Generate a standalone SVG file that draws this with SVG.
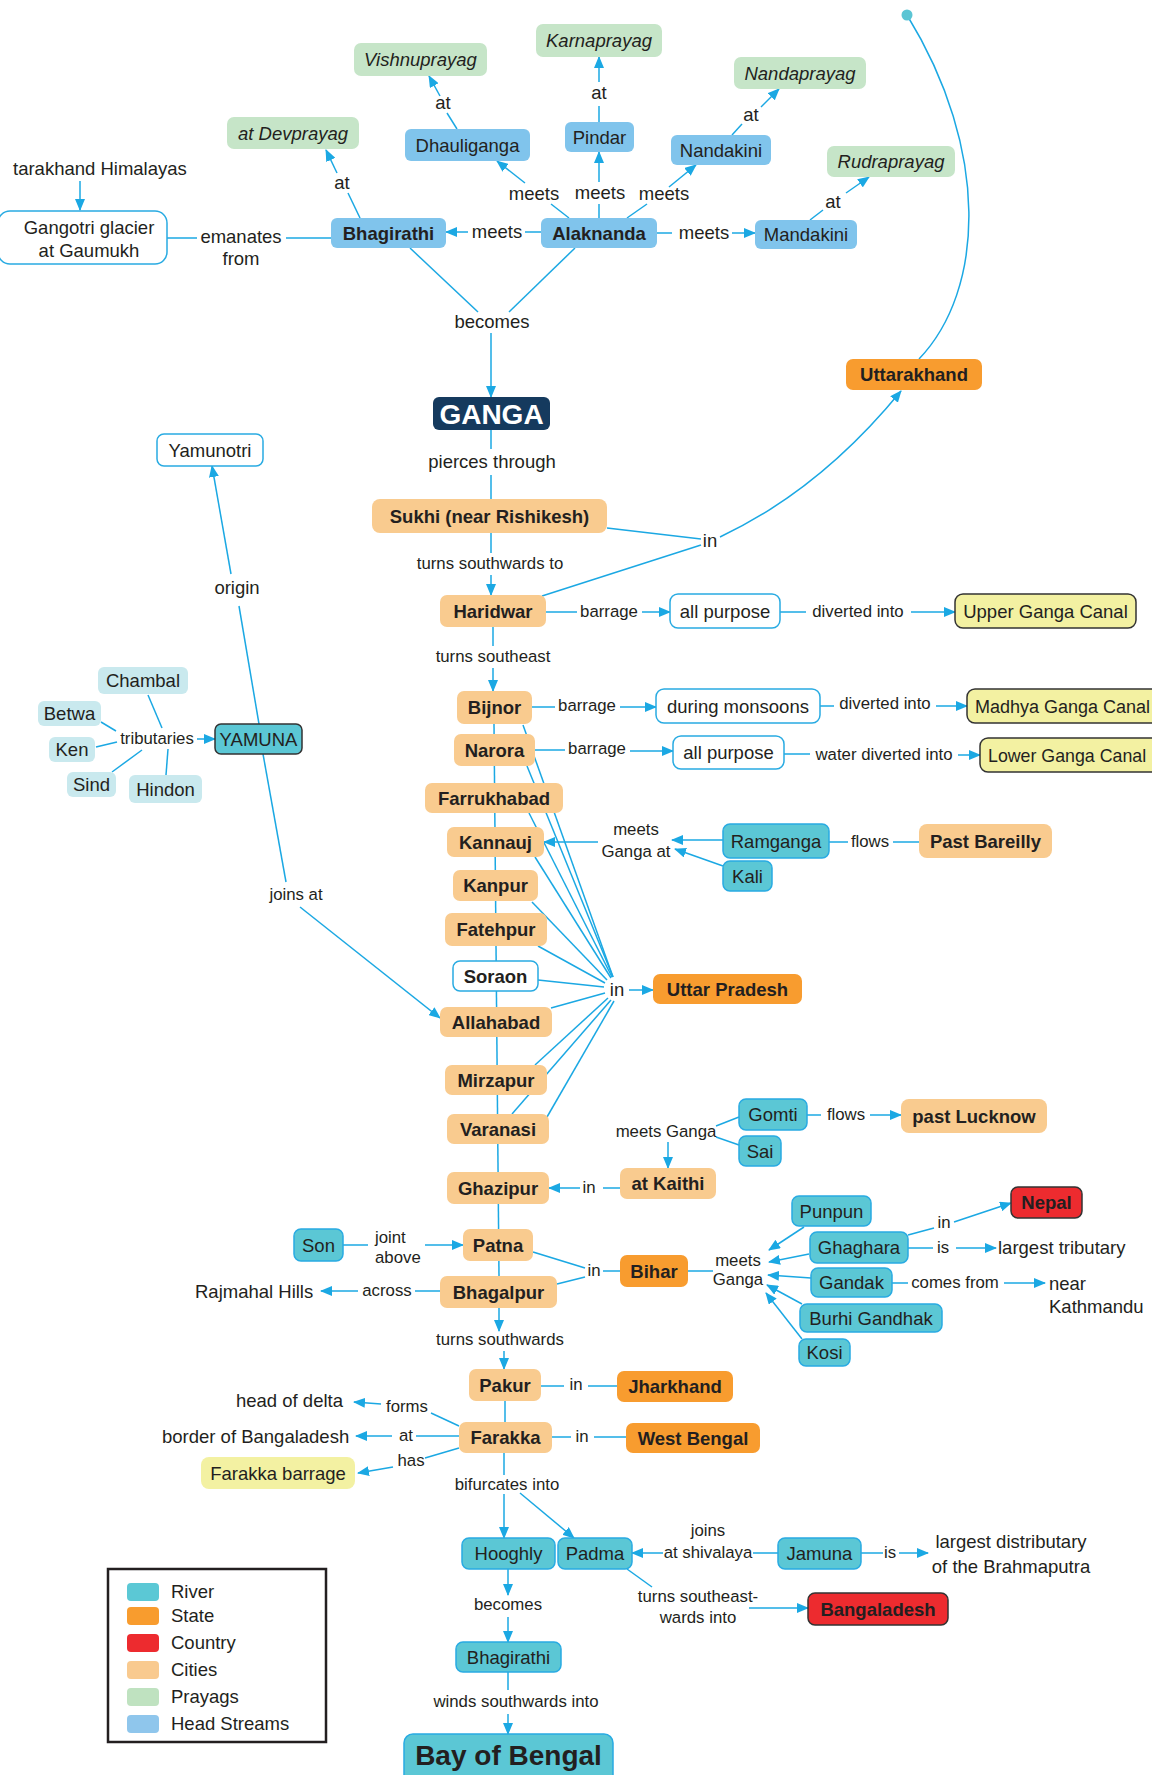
<svg xmlns="http://www.w3.org/2000/svg" width="1152" height="1775" viewBox="0 0 1152 1775">
<defs>
<marker id="ar" markerWidth="12" markerHeight="10" refX="11" refY="5" orient="auto" markerUnits="userSpaceOnUse"><path d="M0,0 L12,5 L0,10 z" fill="#1ba8e3"/></marker>
<style>
text{font-family:"Liberation Sans",Arial,sans-serif;fill:#231f20}
.n{font-size:18.5px;text-anchor:middle}
.s{font-size:16.8px;text-anchor:middle}
.st{text-anchor:start}
.b{font-weight:bold}
.i{font-style:italic}
.c{stroke:#1ba8e3;stroke-width:1.5;fill:none}
.a{marker-end:url(#ar)}
.hs{fill:#80c4ec}
.pr{fill:#c6e5c8}
.wb{fill:#fff;stroke:#29abe2;stroke-width:1.5}
.ci{fill:#f9cb8f}
.sa{fill:#f89c2f}
.co{fill:#ed2b2f;stroke:#333;stroke-width:1.5}
.rv{fill:#5bc7d5;stroke:#29abe2;stroke-width:1.5}
.ca{fill:#f3f1a2;stroke:#333;stroke-width:1.5}
.tr{fill:#c9e9ee}
</style>
</defs>
<rect width="1152" height="1775" fill="#fff"/>
<g id="connectors">
<line class="c a" x1="80" y1="181" x2="80" y2="210"/>
<line class="c" x1="167" y1="238" x2="197" y2="238"/>
<line class="c" x1="286" y1="238" x2="331" y2="238"/>
<line class="c" x1="541" y1="232" x2="525" y2="232"/>
<line class="c a" x1="468" y1="232" x2="446" y2="232"/>
<line class="c" x1="360" y1="218" x2="348" y2="193"/>
<line class="c a" x1="337" y1="173" x2="326" y2="150"/>
<line class="c" x1="569" y1="218" x2="551" y2="204"/>
<line class="c a" x1="525" y1="183" x2="497" y2="161"/>
<line class="c" x1="457" y1="129" x2="447" y2="113"/>
<line class="c a" x1="440" y1="96" x2="429" y2="76"/>
<line class="c" x1="599" y1="218" x2="599" y2="204"/>
<line class="c a" x1="599" y1="182" x2="599" y2="152"/>
<line class="c" x1="599" y1="122" x2="599" y2="106"/>
<line class="c a" x1="599" y1="82" x2="599" y2="57"/>
<line class="c" x1="627" y1="218" x2="647" y2="204"/>
<line class="c a" x1="669" y1="187" x2="696" y2="165"/>
<line class="c" x1="732" y1="135" x2="742" y2="124"/>
<line class="c a" x1="761" y1="107" x2="779" y2="89"/>
<line class="c" x1="657" y1="233" x2="672" y2="233"/>
<line class="c a" x1="732" y1="233" x2="755" y2="233"/>
<line class="c" x1="810" y1="220" x2="823" y2="210"/>
<line class="c a" x1="846" y1="193" x2="869" y2="177"/>
<line class="c" x1="410" y1="248" x2="478" y2="312"/>
<line class="c" x1="575" y1="248" x2="509" y2="312"/>
<line class="c a" x1="491" y1="333" x2="491" y2="397"/>
<line class="c" x1="491" y1="430" x2="491" y2="449"/>
<line class="c" x1="491" y1="475" x2="491" y2="499"/>
<line class="c" x1="491" y1="533" x2="491" y2="553"/>
<line class="c a" x1="491" y1="575" x2="491" y2="595"/>
<line class="c" x1="493" y1="627" x2="493" y2="646"/>
<line class="c a" x1="493" y1="668" x2="493" y2="691"/>
<line class="c" x1="607" y1="528" x2="701" y2="539"/>
<line class="c" x1="542" y1="596" x2="701" y2="545"/>
<path class="c a" d="M720,537 Q820,490 901,391"/>
<path class="c" d="M907,15 C990,150 985,290 919,359"/>
<circle cx="907" cy="15" r="5.5" fill="#5bc5d4"/>
<line class="c" x1="546" y1="612" x2="577" y2="612"/>
<line class="c a" x1="642" y1="612" x2="670" y2="612"/>
<line class="c" x1="780" y1="612" x2="806" y2="612"/>
<line class="c a" x1="911" y1="612" x2="955" y2="612"/>
<line class="c" x1="532" y1="707" x2="555" y2="707"/>
<line class="c a" x1="620" y1="707" x2="656" y2="707"/>
<line class="c" x1="820" y1="706" x2="834" y2="706"/>
<line class="c a" x1="936" y1="706" x2="967" y2="706"/>
<line class="c" x1="535" y1="750" x2="565" y2="750"/>
<line class="c a" x1="630" y1="751" x2="673" y2="751"/>
<line class="c" x1="784" y1="754" x2="810" y2="754"/>
<line class="c a" x1="958" y1="755" x2="980" y2="755"/>
<line class="c" x1="259" y1="724" x2="239" y2="606"/>
<line class="c a" x1="231" y1="574" x2="212" y2="466"/>
<line class="c" x1="148" y1="695" x2="162" y2="728"/>
<line class="c" x1="101" y1="722" x2="116" y2="731"/>
<line class="c" x1="96" y1="747" x2="117" y2="742"/>
<line class="c" x1="112" y1="772" x2="142" y2="750"/>
<line class="c" x1="166" y1="775" x2="168" y2="749"/>
<line class="c a" x1="197" y1="739" x2="215" y2="739"/>
<line class="c" x1="263" y1="754" x2="286" y2="882"/>
<line class="c a" x1="300" y1="907" x2="440" y2="1018"/>
<line class="c" x1="494" y1="724" x2="499" y2="1276"/>
<line class="c" x1="523" y1="725" x2="613" y2="977"/>
<line class="c" x1="527" y1="766" x2="613" y2="977"/>
<line class="c" x1="529" y1="813" x2="612" y2="977"/>
<line class="c" x1="535" y1="857" x2="611" y2="978"/>
<line class="c" x1="532" y1="902" x2="607" y2="980"/>
<line class="c" x1="538" y1="946" x2="605" y2="983"/>
<line class="c" x1="538" y1="980" x2="604" y2="987"/>
<line class="c" x1="551" y1="1008" x2="605" y2="993"/>
<line class="c" x1="535" y1="1065" x2="608" y2="998"/>
<line class="c" x1="512" y1="1114" x2="611" y2="1000"/>
<line class="c" x1="547" y1="1117" x2="614" y2="1001"/>
<line class="c a" x1="629" y1="990" x2="653" y2="990"/>
<line class="c a" x1="723" y1="840" x2="672" y2="840"/>
<line class="c a" x1="723" y1="866" x2="675" y2="849"/>
<line class="c a" x1="598" y1="842" x2="544" y2="842"/>
<line class="c" x1="829" y1="842" x2="848" y2="842"/>
<line class="c" x1="893" y1="842" x2="919" y2="842"/>
<line class="c" x1="807" y1="1115" x2="821" y2="1115"/>
<line class="c a" x1="870" y1="1115" x2="901" y2="1115"/>
<line class="c" x1="739" y1="1117" x2="716" y2="1126"/>
<line class="c" x1="739" y1="1145" x2="716" y2="1137"/>
<line class="c a" x1="668" y1="1142" x2="668" y2="1168"/>
<line class="c" x1="620" y1="1188" x2="603" y2="1188"/>
<line class="c a" x1="580" y1="1188" x2="549" y2="1188"/>
<line class="c" x1="343" y1="1245" x2="368" y2="1245"/>
<line class="c a" x1="425" y1="1245" x2="463" y2="1245"/>
<line class="c" x1="441" y1="1291" x2="415" y2="1291"/>
<line class="c a" x1="358" y1="1291" x2="321" y2="1291"/>
<line class="c" x1="533" y1="1252" x2="585" y2="1268"/>
<line class="c" x1="557" y1="1284" x2="585" y2="1277"/>
<line class="c" x1="603" y1="1271" x2="620" y2="1271"/>
<line class="c" x1="688" y1="1271" x2="713" y2="1271"/>
<line class="c a" x1="804" y1="1227" x2="769" y2="1250"/>
<line class="c a" x1="809" y1="1254" x2="769" y2="1262"/>
<line class="c a" x1="811" y1="1278" x2="768" y2="1275"/>
<line class="c a" x1="802" y1="1304" x2="767" y2="1285"/>
<line class="c a" x1="802" y1="1339" x2="766" y2="1293"/>
<line class="c" x1="908" y1="1235" x2="934" y2="1228"/>
<line class="c a" x1="954" y1="1222" x2="1011" y2="1203"/>
<line class="c" x1="908" y1="1248" x2="933" y2="1248"/>
<line class="c a" x1="956" y1="1248" x2="996" y2="1248"/>
<line class="c" x1="892" y1="1283" x2="908" y2="1283"/>
<line class="c a" x1="1004" y1="1283" x2="1045" y2="1283"/>
<line class="c a" x1="499" y1="1308" x2="499" y2="1331"/>
<line class="c a" x1="504" y1="1351" x2="504" y2="1369"/>
<line class="c" x1="541" y1="1386" x2="564" y2="1386"/>
<line class="c" x1="588" y1="1386" x2="617" y2="1386"/>
<line class="c" x1="505" y1="1401" x2="505" y2="1422"/>
<line class="c" x1="459" y1="1426" x2="431" y2="1413"/>
<line class="c a" x1="381" y1="1404" x2="354" y2="1402"/>
<line class="c" x1="459" y1="1436" x2="416" y2="1436"/>
<line class="c a" x1="392" y1="1436" x2="356" y2="1436"/>
<line class="c" x1="459" y1="1448" x2="425" y2="1458"/>
<line class="c a" x1="393" y1="1467" x2="358" y2="1473"/>
<line class="c" x1="552" y1="1437" x2="571" y2="1437"/>
<line class="c" x1="594" y1="1437" x2="626" y2="1437"/>
<line class="c" x1="504" y1="1453" x2="504" y2="1475"/>
<line class="c a" x1="504" y1="1494" x2="504" y2="1538"/>
<line class="c a" x1="520" y1="1493" x2="574" y2="1538"/>
<line class="c" x1="778" y1="1553" x2="753" y2="1553"/>
<line class="c a" x1="663" y1="1553" x2="632" y2="1553"/>
<line class="c" x1="861" y1="1553" x2="883" y2="1553"/>
<line class="c a" x1="899" y1="1553" x2="928" y2="1553"/>
<line class="c" x1="627" y1="1569" x2="652" y2="1587"/>
<line class="c a" x1="749" y1="1608" x2="808" y2="1608"/>
<line class="c a" x1="508" y1="1569" x2="508" y2="1595"/>
<line class="c a" x1="508" y1="1617" x2="508" y2="1642"/>
<line class="c" x1="508" y1="1672" x2="508" y2="1690"/>
<line class="c a" x1="508" y1="1714" x2="508" y2="1734"/>
</g>
<g id="labels">
<text class="n" x="241" y="243">emanates</text>
<text class="n" x="241" y="265">from</text>
<text class="n" x="497" y="237.5">meets</text>
<text class="n" x="534" y="199.5">meets</text>
<text class="n" x="600" y="198.5">meets</text>
<text class="n" x="664" y="199.5">meets</text>
<text class="n" x="704" y="238.5">meets</text>
<text class="n" x="342" y="188.5">at</text>
<text class="n" x="443" y="108.5">at</text>
<text class="n" x="599" y="98.5">at</text>
<text class="n" x="751" y="120.5">at</text>
<text class="n" x="833" y="207.5">at</text>
<text class="n" x="492" y="327.5">becomes</text>
<text class="n" x="492" y="467.5">pierces through</text>
<text class="s" x="490" y="569">turns southwards to</text>
<text class="s" x="493" y="662">turns southeast</text>
<text class="n" x="710" y="547">in</text>
<text class="s" x="609" y="617">barrage</text>
<text class="s" x="858" y="617">diverted into</text>
<text class="s" x="587" y="711">barrage</text>
<text class="s" x="885" y="709">diverted into</text>
<text class="s" x="597" y="754">barrage</text>
<text class="s" x="884" y="760">water diverted into</text>
<text class="n" x="237" y="593.5">origin</text>
<text class="s" x="157" y="744">tributaries</text>
<text class="s" x="296" y="900">joins at</text>
<text class="s" x="636" y="835">meets</text>
<text class="s" x="636" y="857">Ganga at</text>
<text class="n" x="617" y="995.5">in</text>
<text class="s" x="870" y="847">flows</text>
<text class="s" x="846" y="1120">flows</text>
<text class="s" x="666" y="1137">meets Ganga</text>
<text class="s" x="589" y="1193">in</text>
<text class="s st" x="375" y="1243">joint</text>
<text class="s st" x="375" y="1263">above</text>
<text class="s" x="387" y="1296">across</text>
<text class="s" x="594" y="1276">in</text>
<text class="s" x="738" y="1266">meets</text>
<text class="s" x="738" y="1285">Ganga</text>
<text class="s" x="500" y="1345">turns southwards</text>
<text class="s" x="576" y="1390">in</text>
<text class="s" x="407" y="1412">forms</text>
<text class="s" x="406" y="1441">at</text>
<text class="s" x="411" y="1466">has</text>
<text class="s" x="582" y="1442">in</text>
<text class="s" x="507" y="1490">bifurcates into</text>
<text class="s" x="944" y="1228">in</text>
<text class="s" x="943" y="1253">is</text>
<text class="s" x="955" y="1288">comes from</text>
<text class="s" x="708" y="1536">joins</text>
<text class="s" x="708" y="1558">at shivalaya</text>
<text class="s" x="890" y="1558">is</text>
<text class="s" x="698" y="1602">turns southeast-</text>
<text class="s" x="698" y="1623">wards into</text>
<text class="s" x="508" y="1610">becomes</text>
<text class="s" x="516" y="1707">winds southwards into</text>
</g>
<g id="n-himalayas"><text class="n st" x="13" y="175">tarakhand Himalayas</text></g>
<g id="n-gangotri"><rect class="wb" x="-2" y="211" width="169" height="53" rx="12"/><text class="n" x="89" y="233.5">Gangotri glacier</text><text class="n" x="89" y="256.5">at Gaumukh</text></g>
<g id="n-bhagirathi"><rect class="hs" x="331" y="218" width="115" height="30" rx="6"/><text class="n b" x="388.5" y="239.5">Bhagirathi</text></g>
<g id="n-alaknanda"><rect class="hs" x="541" y="218" width="116" height="30" rx="6"/><text class="n b" x="599" y="239.5">Alaknanda</text></g>
<g id="n-dhauliganga"><rect class="hs" x="405" y="129" width="125" height="32" rx="6"/><text class="n" x="467.5" y="151.5">Dhauliganga</text></g>
<g id="n-pindar"><rect class="hs" x="565" y="122" width="69" height="30" rx="6"/><text class="n" x="599.5" y="143.5">Pindar</text></g>
<g id="n-nandakini"><rect class="hs" x="671" y="135" width="100" height="30" rx="6"/><text class="n" x="721" y="156.5">Nandakini</text></g>
<g id="n-mandakini"><rect class="hs" x="755" y="220" width="102" height="29" rx="6"/><text class="n" x="806" y="241">Mandakini</text></g>
<g id="n-vishnuprayag"><rect class="pr" x="354" y="43" width="133" height="33" rx="7"/><text class="n i" x="420.5" y="66">Vishnuprayag</text></g>
<g id="n-devprayag"><rect class="pr" x="227" y="117" width="132" height="32" rx="7"/><text class="n i" x="293" y="139.5">at Devprayag</text></g>
<g id="n-karnaprayag"><rect class="pr" x="536" y="24" width="126" height="33" rx="7"/><text class="n i" x="599" y="47">Karnaprayag</text></g>
<g id="n-nandaprayag"><rect class="pr" x="734" y="57" width="132" height="32" rx="7"/><text class="n i" x="800" y="79.5">Nandaprayag</text></g>
<g id="n-rudraprayag"><rect class="pr" x="827" y="146" width="128" height="31" rx="7"/><text class="n i" x="891" y="168">Rudraprayag</text></g>
<g id="n-ganga"><rect x="433" y="397" width="117" height="33" rx="6" fill="#153a5e"/><text x="491.5" y="424" font-size="28" font-weight="bold" text-anchor="middle" style="fill:#fff">GANGA</text></g>
<g id="n-uttarakhand"><rect class="sa" x="846" y="359" width="136" height="31" rx="7"/><text class="n b" x="914" y="381">Uttarakhand</text></g>
<g id="n-yamunotri"><rect class="wb" x="157" y="434" width="106" height="32" rx="7"/><text class="n" x="210" y="456.5">Yamunotri</text></g>
<g id="n-yamuna"><rect x="215" y="724" width="87" height="30" rx="6" fill="#5bc7d5" stroke="#333" stroke-width="1.5"/><text class="n" x="258.5" y="745.5">YAMUNA</text></g>
<g id="n-chambal"><rect class="tr" x="98" y="667" width="90" height="27" rx="6"/><text class="n" x="143" y="687">Chambal</text></g>
<g id="n-betwa"><rect class="tr" x="38" y="701" width="63" height="25" rx="6"/><text class="n" x="69.5" y="720">Betwa</text></g>
<g id="n-ken"><rect class="tr" x="49" y="737" width="46" height="25" rx="6"/><text class="n" x="72" y="756">Ken</text></g>
<g id="n-sind"><rect class="tr" x="67" y="772" width="49" height="25" rx="6"/><text class="n" x="91.5" y="791">Sind</text></g>
<g id="n-hindon"><rect class="tr" x="129" y="775" width="73" height="28" rx="6"/><text class="n" x="165.5" y="795.5">Hindon</text></g>
<g id="n-sukhi"><rect class="ci" x="372" y="499" width="235" height="34" rx="8"/><text class="n b" x="489.5" y="522.5">Sukhi (near Rishikesh)</text></g>
<g id="n-haridwar"><rect class="ci" x="440" y="595" width="106" height="32" rx="7"/><text class="n b" x="493" y="617.5">Haridwar</text></g>
<g id="n-allpurpose1"><rect class="wb" x="670" y="594" width="110" height="34" rx="8"/><text class="n" x="725" y="617.5">all purpose</text></g>
<g id="n-upper"><rect class="ca" x="955" y="594" width="181" height="34" rx="8"/><text class="n" x="1045.5" y="617.5">Upper Ganga Canal</text></g>
<g id="n-bijnor"><rect class="ci" x="457" y="691" width="75" height="33" rx="7"/><text class="n b" x="494.5" y="714">Bijnor</text></g>
<g id="n-monsoons"><rect class="wb" x="656" y="689" width="164" height="34" rx="8"/><text class="n" x="738" y="712.5">during monsoons</text></g>
<g id="n-madhya"><rect class="ca" x="967" y="689" width="200" height="34" rx="8"/><text class="n st" x="975" y="712.5" style="font-size:18px">Madhya Ganga Canal</text></g>
<g id="n-narora"><rect class="ci" x="454" y="734" width="81" height="32" rx="7"/><text class="n b" x="494.5" y="756.5">Narora</text></g>
<g id="n-allpurpose2"><rect class="wb" x="673" y="736" width="111" height="33" rx="8"/><text class="n" x="728.5" y="759">all purpose</text></g>
<g id="n-lower"><rect class="ca" x="980" y="738" width="190" height="34" rx="8"/><text class="n st" x="988" y="761.5" style="font-size:17.8px">Lower Ganga Canal</text></g>
<g id="n-farrukhabad"><rect class="ci" x="425" y="783" width="138" height="30" rx="7"/><text class="n b" x="494" y="804.5">Farrukhabad</text></g>
<g id="n-kannauj"><rect class="ci" x="447" y="827" width="97" height="30" rx="7"/><text class="n b" x="495.5" y="848.5">Kannauj</text></g>
<g id="n-kanpur"><rect class="ci" x="453" y="870" width="85" height="31" rx="7"/><text class="n b" x="495.5" y="892">Kanpur</text></g>
<g id="n-fatehpur"><rect class="ci" x="445" y="913" width="102" height="33" rx="7"/><text class="n b" x="496" y="936">Fatehpur</text></g>
<g id="n-soraon"><rect class="wb" x="453" y="961" width="85" height="30" rx="7"/><text class="n b" x="495.5" y="982.5">Soraon</text></g>
<g id="n-allahabad"><rect class="ci" x="440" y="1007" width="112" height="30" rx="7"/><text class="n b" x="496" y="1028.5">Allahabad</text></g>
<g id="n-mirzapur"><rect class="ci" x="445" y="1065" width="102" height="30" rx="7"/><text class="n b" x="496" y="1086.5">Mirzapur</text></g>
<g id="n-varanasi"><rect class="ci" x="447" y="1114" width="102" height="30" rx="7"/><text class="n b" x="498" y="1135.5">Varanasi</text></g>
<g id="n-ghazipur"><rect class="ci" x="447" y="1172" width="102" height="32" rx="7"/><text class="n b" x="498" y="1194.5">Ghazipur</text></g>
<g id="n-patna"><rect class="ci" x="463" y="1229" width="70" height="32" rx="7"/><text class="n b" x="498" y="1251.5">Patna</text></g>
<g id="n-bhagalpur"><rect class="ci" x="440" y="1276" width="117" height="32" rx="7"/><text class="n b" x="498.5" y="1298.5">Bhagalpur</text></g>
<g id="n-pakur"><rect class="ci" x="469" y="1369" width="72" height="32" rx="7"/><text class="n b" x="505" y="1391.5">Pakur</text></g>
<g id="n-farakka"><rect class="ci" x="459" y="1422" width="93" height="31" rx="7"/><text class="n b" x="505.5" y="1444">Farakka</text></g>
<g id="n-ramganga"><rect class="rv" x="723" y="824" width="106" height="34" rx="7"/><text class="n" x="776" y="847.5">Ramganga</text></g>
<g id="n-kali"><rect class="rv" x="723" y="861" width="49" height="30" rx="7"/><text class="n" x="747.5" y="882.5">Kali</text></g>
<g id="n-bareilly"><rect class="ci" x="919" y="824" width="133" height="34" rx="8"/><text class="n b" x="985.5" y="847.5">Past Bareilly</text></g>
<g id="n-up"><rect class="sa" x="653" y="974" width="149" height="30" rx="7"/><text class="n b" x="727.5" y="995.5">Uttar Pradesh</text></g>
<g id="n-gomti"><rect class="rv" x="739" y="1099" width="68" height="31" rx="7"/><text class="n" x="773" y="1121">Gomti</text></g>
<g id="n-sai"><rect class="rv" x="739" y="1136" width="42" height="30" rx="7"/><text class="n" x="760" y="1157.5">Sai</text></g>
<g id="n-lucknow"><rect class="ci" x="901" y="1099" width="146" height="34" rx="8"/><text class="n b" x="974" y="1122.5">past Lucknow</text></g>
<g id="n-kaithi"><rect class="ci" x="620" y="1168" width="96" height="31" rx="7"/><text class="n b" x="668" y="1190">at Kaithi</text></g>
<g id="n-nepal"><rect class="co" x="1011" y="1187" width="71" height="31" rx="7"/><text class="n b" x="1046.5" y="1209">Nepal</text></g>
<g id="n-punpun"><rect class="rv" x="792" y="1196" width="79" height="30" rx="7"/><text class="n" x="831.5" y="1217.5">Punpun</text></g>
<g id="n-ghaghara"><rect class="rv" x="810" y="1232" width="98" height="31" rx="7"/><text class="n" x="859" y="1254">Ghaghara</text></g>
<g id="n-largest-trib"><text class="n st" x="998" y="1254">largest tributary</text></g>
<g id="n-gandak"><rect class="rv" x="811" y="1268" width="81" height="29" rx="7"/><text class="n" x="851.5" y="1289">Gandak</text></g>
<g id="n-kathmandu"><text class="n st" x="1049" y="1290">near</text><text class="n st" x="1049" y="1313">Kathmandu</text></g>
<g id="n-burhi"><rect class="rv" x="800" y="1304" width="142" height="28" rx="7"/><text class="n" x="871" y="1324.5">Burhi Gandhak</text></g>
<g id="n-kosi"><rect class="rv" x="799" y="1339" width="51" height="27" rx="7"/><text class="n" x="824.5" y="1359">Kosi</text></g>
<g id="n-son"><rect class="rv" x="294" y="1229" width="49" height="32" rx="7"/><text class="n" x="318.5" y="1251.5">Son</text></g>
<g id="n-rajmahal"><text class="n st" x="195" y="1298">Rajmahal Hills</text></g>
<g id="n-bihar"><rect class="sa" x="620" y="1255" width="68" height="32" rx="7"/><text class="n b" x="654" y="1277.5">Bihar</text></g>
<g id="n-jharkhand"><rect class="sa" x="617" y="1371" width="116" height="31" rx="7"/><text class="n b" x="675" y="1393">Jharkhand</text></g>
<g id="n-westbengal"><rect class="sa" x="626" y="1423" width="134" height="30" rx="7"/><text class="n b" x="693" y="1444.5">West Bengal</text></g>
<g id="n-headdelta"><text class="n st" x="236" y="1407">head of delta</text></g>
<g id="n-border"><text class="n st" x="162" y="1443">border of Bangaladesh</text></g>
<g id="n-farakkabarrage"><rect x="201" y="1457" width="154" height="32" rx="8" fill="#f3f1a2"/><text class="n" x="278" y="1479.5">Farakka barrage</text></g>
<g id="n-hooghly"><rect class="rv" x="462" y="1538" width="93" height="31" rx="7"/><text class="n" x="508.5" y="1560">Hooghly</text></g>
<g id="n-padma"><rect class="rv" x="558" y="1538" width="74" height="31" rx="7"/><text class="n" x="595" y="1560">Padma</text></g>
<g id="n-jamuna"><rect class="rv" x="778" y="1538" width="83" height="31" rx="7"/><text class="n" x="819.5" y="1560">Jamuna</text></g>
<g id="n-distributary"><text class="n" x="1011" y="1548">largest distributary</text><text class="n" x="1011" y="1573">of the Brahmaputra</text></g>
<g id="n-bangaladesh"><rect class="co" x="808" y="1593" width="140" height="32" rx="7"/><text class="n b" x="878" y="1615.5">Bangaladesh</text></g>
<g id="n-bhagirathi2"><rect class="rv" x="456" y="1642" width="105" height="30" rx="7"/><text class="n" x="508.5" y="1663.5">Bhagirathi</text></g>
<g id="n-bay"><rect class="rv" x="404" y="1734" width="209" height="56" rx="9"/><text x="508.5" y="1765" font-size="28" font-weight="bold" text-anchor="middle">Bay of Bengal</text></g>
<g id="legend">
<rect x="108" y="1569" width="218" height="173" fill="#fff" stroke="#231f20" stroke-width="2.5"/>
<rect x="127" y="1583" width="32" height="18" rx="4" fill="#5bc8d5"/>
<rect x="127" y="1607" width="32" height="18" rx="4" fill="#f89c2e"/>
<rect x="127" y="1634" width="32" height="18" rx="4" fill="#ed2b2f"/>
<rect x="127" y="1661" width="32" height="18" rx="4" fill="#f9ca8f"/>
<rect x="127" y="1688" width="32" height="18" rx="4" fill="#bfe2c0"/>
<rect x="127" y="1715" width="32" height="18" rx="4" fill="#8fc6ec"/>
<text class="n st" x="171" y="1598">River</text>
<text class="n st" x="171" y="1622">State</text>
<text class="n st" x="171" y="1649">Country</text>
<text class="n st" x="171" y="1676">Cities</text>
<text class="n st" x="171" y="1703">Prayags</text>
<text class="n st" x="171" y="1730">Head Streams</text>
</g>
</svg>
